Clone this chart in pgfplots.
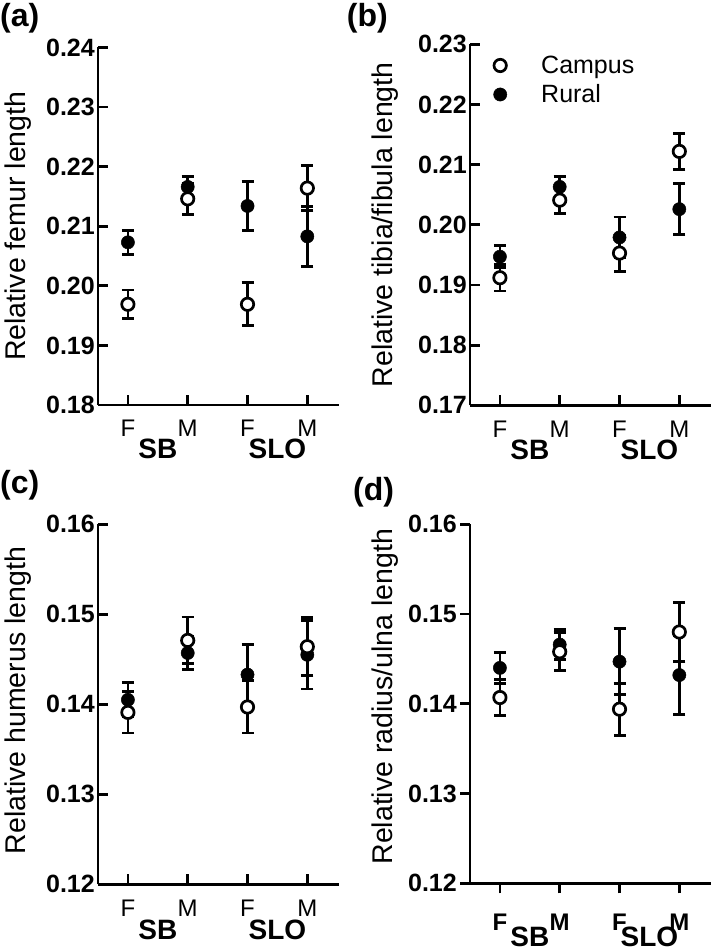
\documentclass[border=0pt]{standalone}
\usepackage{fontspec}
\setmainfont{Liberation Sans}
\usepackage{pgfplots}
\pgfplotsset{compat=1.18}
\tikzset{grp/.style={font=\bfseries\fontsize{28}{28}\selectfont, anchor=base}}
\pgfplotsset{
  panel/.style={
    scale only axis, width=241pt, height=359pt,
    xmin=-0.5, xmax=3.53,
    axis x line=bottom, axis y line=left,
    axis line style={-, line width=2.8pt, black},
    tick style={line width=2.8pt, black},
    major tick length=10pt,
    tick align=inside,
    xtick={0,1,2,3},
    xticklabels={F,M,F,M},
    ytick distance=0.01,
    /pgf/number format/assume math mode=true,
    yticklabel style={font=\bfseries\fontsize{25}{25}\selectfont, inner xsep=3pt,
      /pgf/number format/fixed, /pgf/number format/fixed zerofill, /pgf/number format/precision=2},
    xticklabel style={font=\fontsize{24}{24}\selectfont, anchor=base, yshift=-32pt},
    ylabel style={font=\fontsize{28.5}{28.5}\selectfont, anchor=center},
    clip=false,
    legend image code/.code={\pgfpathrectangle{\pgfpoint{-14pt}{-10pt}}{\pgfpoint{55pt}{20pt}}\pgfusepath{use as bounding box}\draw[#1] plot coordinates {(0pt,0pt)};},
  },
  ebars/.style={
    error bars/y dir=both, error bars/y explicit,
    error bars/error bar style={line width=2.8pt, black},
    error bars/error mark options={rotate=90, line width=2.8pt, mark size=6pt, black}},
  campus/.style={only marks, mark=*, mark size=6.2pt, mark options={fill=white, draw=black, line width=2.7pt}, ebars},
  rural/.style={only marks, mark=*, mark size=6.6pt, mark options={fill=black, draw=black, line width=0.5pt}, ebars},
}
\begin{document}
\begin{tikzpicture}
\useasboundingbox (0pt,0pt) rectangle (712pt,952pt);
% (a)
\begin{axis}[panel, at={(98pt,547pt)}, anchor=south west, height=357.5pt,
  ymin=0.18, ymax=0.24, ylabel={Relative femur length},
  ylabel style={at={(axis description cs:-0.332,0.5)}}]
\addplot[rural] table[x=x, y=y, y error=e] {
x y e
0 0.2073 0.0020
1 0.2166 0.0017
2 0.2134 0.0041
3 0.2083 0.0050
};
\addplot[campus] table[x=x, y=y, y error=e] {
x y e
0 0.1969 0.0024
1 0.2146 0.0026
2 0.1969 0.0036
3 0.2164 0.0038
};
\node[grp, yshift=-54pt] at (axis cs:0.5,0.18) {SB};
\node[grp, yshift=-54pt] at (axis cs:2.5,0.18) {SLO};
\end{axis}
% (b)
\begin{axis}[panel, at={(470pt,546.7pt)}, anchor=south west, height=361pt,
  ymin=0.17, ymax=0.23, ylabel={Relative tibia/fibula length},
  ylabel style={at={(axis description cs:-0.353,0.5)}},
  legend style={at={(axis description cs:0,1)}, anchor=north west, xshift=16pt, yshift=-11pt,
    draw=none, fill=none, inner sep=0pt, row sep=9pt,
    font=\fontsize{25}{25}\selectfont, nodes={inner sep=0pt}},
  legend cell align=left]
\addlegendimage{mark=*, mark size=6.2pt, mark options={fill=white, draw=black, line width=2.7pt}}
\addlegendentry{Campus}
\addlegendimage{mark=*, mark size=6.6pt, mark options={fill=black, draw=black, line width=0.5pt}}
\addlegendentry{Rural}
\addplot[rural, forget plot] table[x=x, y=y, y error=e] {
x y e
0 0.1947 0.0018
1 0.2063 0.0017
2 0.1979 0.0034
3 0.2026 0.0042
};
\addplot[campus, forget plot] table[x=x, y=y, y error=e] {
x y e
0 0.1912 0.0022
1 0.2041 0.0022
2 0.1953 0.0030
3 0.2122 0.0030
};
\node[grp, yshift=-54pt] at (axis cs:0.5,0.17) {SB};
\node[grp, yshift=-54pt] at (axis cs:2.5,0.17) {SLO};
\end{axis}
% (c)
\begin{axis}[panel, at={(98pt,67.7pt)}, anchor=south west, height=360pt,
  ymin=0.12, ymax=0.16, ylabel={Relative humerus length},
  ylabel style={at={(axis description cs:-0.332,0.51)}}]
\addplot[rural] table[x=x, y=y, y error=e] {
x y e
0 0.1405 0.0019
1 0.1457 0.0018
2 0.1433 0.0033
3 0.1455 0.0038
};
\addplot[campus] table[x=x, y=y, y error=e] {
x y e
0 0.1391 0.0023
1 0.1471 0.0026
2 0.1397 0.0029
3 0.1464 0.0032
};
\node[grp, yshift=-55pt] at (axis cs:0.5,0.12) {SB};
\node[grp, yshift=-55pt] at (axis cs:2.5,0.12) {SLO};
\end{axis}
% (d)
\begin{axis}[panel, at={(470pt,68.7pt)}, anchor=south west, height=359pt,
  ymin=0.12, ymax=0.16, ylabel={Relative radius/ulna length},
  ylabel style={at={(axis description cs:-0.353,0.52)}},
  tick align=outside,
  xticklabel style={font=\bfseries\fontsize{24}{24}\selectfont, anchor=base, yshift=-5pt}]
\addplot[rural] table[x=x, y=y, y error=e] {
x y e
0 0.1440 0.0017
1 0.1466 0.0017
2 0.1447 0.0037
3 0.1432 0.0044
};
\addplot[campus] table[x=x, y=y, y error=e] {
x y e
0 0.1407 0.0020
1 0.1458 0.0021
2 0.1394 0.0029
3 0.1480 0.0033
};
\node[grp, yshift=-63pt] at (axis cs:0.5,0.12) {SB};
\node[grp, yshift=-63pt] at (axis cs:2.5,0.12) {SLO};
\end{axis}
% panel labels
\node[anchor=north west, inner sep=0pt, font=\bfseries\fontsize{32}{32}\selectfont] at (0pt,949pt) {(a)};
\node[anchor=north west, inner sep=0pt, font=\bfseries\fontsize{32}{32}\selectfont] at (346.7pt,949pt) {(b)};
\node[anchor=north west, inner sep=0pt, font=\bfseries\fontsize{32}{32}\selectfont] at (0pt,482pt) {(c)};
\node[anchor=north west, inner sep=0pt, font=\bfseries\fontsize{32}{32}\selectfont] at (353pt,475pt) {(d)};
\end{tikzpicture}
\end{document}
